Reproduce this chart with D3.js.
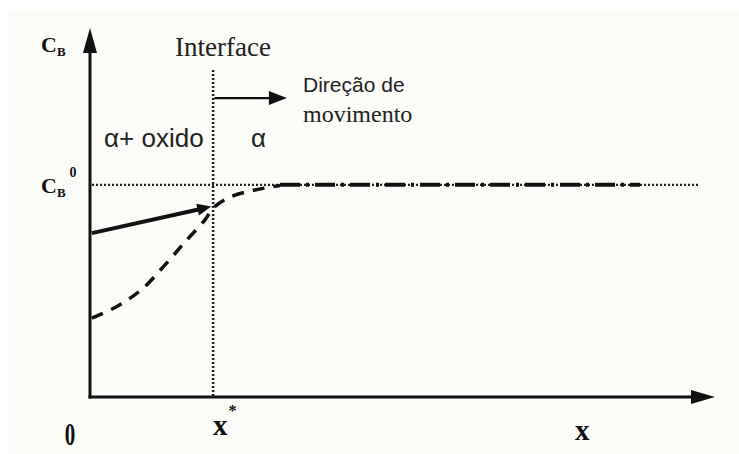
<!DOCTYPE html>
<html><head><meta charset="utf-8">
<script src="https://cdn.jsdelivr.net/npm/d3@7"></script>
<style>body{margin:0;background:#fff}svg{display:block}</style>
</head><body><svg id="c" width="739" height="454"></svg>
<script>
// ---- data (abstract units 0..100 on each axis) ----
const xExtent = [0, 100];
const yExtent = [0, 100];
const interfaceX = 19.7;          // x*
const interfaceTop = 88.6;
const cB0 = 57.5;                 // C_B^0 level
const cB0End = 97.3;              // end of dotted reference line
const solidX = [0.3, 19.4];
const solidY = [44.4, 51.6];
const dashedX = [0.3, 4.5, 8.5, 12.0, 15.2, 18.4, 19.7, 22.4, 26.4, 30.4];
const dashedY = [21.4, 24.7, 29.5, 35.8, 42.0, 48.0, 51.2, 54.2, 56.1, 57.3];
const dashDotX = [30.4, 88.0];
const moveArrowX = [19.9, 31.5];
const moveArrowY = 81;

const svg = d3.select("#c");
const W = 739, H = 454;
const x = d3.scaleLinear().domain(xExtent).range([90, 715]);
const y = d3.scaleLinear().domain(yExtent).range([397, 28]);

svg.append("rect").attr("x",0).attr("y",0).attr("width",W).attr("height",H).attr("fill","#ffffff");
svg.append("rect").attr("x",8).attr("y",10).attr("width",W-8).attr("height",H-10).attr("fill","#fbfbf8");

const ink = "#111";
// dotted C_B^0 line
svg.append("line").attr("x1",x(0)+2).attr("x2",x(cB0End)).attr("y1",y(cB0)).attr("y2",y(cB0))
  .attr("stroke","#222").attr("stroke-width",2.2).attr("stroke-dasharray","2,2");
// interface dotted line
svg.append("line").attr("x1",x(interfaceX)).attr("x2",x(interfaceX)).attr("y1",y(interfaceTop)).attr("y2",y(0))
  .attr("stroke","#222").attr("stroke-width",2.5).attr("stroke-dasharray","2,2");

// axes
svg.append("line").attr("x1",x(0)).attr("x2",x(0)).attr("y1",y(0)+1.5).attr("y2",y(yExtent[1])+20)
  .attr("stroke",ink).attr("stroke-width",3);
svg.append("line").attr("x1",x(0)-1.5).attr("x2",x(xExtent[1])-20).attr("y1",y(0)).attr("y2",y(0))
  .attr("stroke",ink).attr("stroke-width",3);
// axis arrowheads
const yt = [x(0), y(yExtent[1])];
svg.append("path").attr("d",`M${yt[0]},${yt[1]} L${yt[0]-7},${yt[1]+25} L${yt[0]+7},${yt[1]+25} Z`).attr("fill",ink);
const xt = [x(xExtent[1]), y(0)];
svg.append("path").attr("d",`M${xt[0]},${xt[1]} L${xt[0]-24},${xt[1]-7} L${xt[0]-24},${xt[1]+7} Z`).attr("fill",ink);

// movement arrow
const my = y(moveArrowY);
svg.append("line").attr("x1",x(moveArrowX[0])).attr("x2",x(moveArrowX[1])-16).attr("y1",my).attr("y2",my)
  .attr("stroke",ink).attr("stroke-width",2.2);
svg.append("path").attr("d",`M${x(moveArrowX[1])},${my} L${x(moveArrowX[1])-18},${my-7} L${x(moveArrowX[1])-18},${my+7} Z`).attr("fill",ink);

// dash-dot line
svg.append("line").attr("x1",x(dashDotX[0])).attr("x2",x(dashDotX[1])).attr("y1",y(cB0)).attr("y2",y(cB0))
  .attr("stroke",ink).attr("stroke-width",4).attr("stroke-dasharray","20,6,3,6");

// dashed curve
const lineGen = d3.line().x(d=>x(d[0])).y(d=>y(d[1])).curve(d3.curveCatmullRom);
svg.append("path").attr("d",lineGen(d3.zip(dashedX,dashedY))).attr("fill","none")
  .attr("stroke",ink).attr("stroke-width",3.5).attr("stroke-dasharray","12,9");

// solid line with arrowhead
const sx0=x(solidX[0]), sy0=y(solidY[0]), sx1=x(solidX[1]), sy1=y(solidY[1]);
const ang = Math.atan2(sy1-sy0, sx1-sx0);
const hl=14, hw=6;
const bx = sx1 - hl*Math.cos(ang), by = sy1 - hl*Math.sin(ang);
svg.append("line").attr("x1",sx0).attr("y1",sy0).attr("x2",bx+2*Math.cos(ang)).attr("y2",by+2*Math.sin(ang))
  .attr("stroke",ink).attr("stroke-width",4);
svg.append("path").attr("d",`M${sx1},${sy1} L${bx - hw*Math.sin(ang)},${by + hw*Math.cos(ang)} L${bx + hw*Math.sin(ang)},${by - hw*Math.cos(ang)} Z`).attr("fill",ink);

// ---- text ----
const serif = "'Liberation Serif','Times New Roman',serif";
const sans = "'Liberation Sans',Arial,sans-serif";
function cb(xp, yp, sup){
  const t = svg.append("text").attr("x",xp).attr("y",yp).attr("font-family",serif).attr("font-weight","bold")
    .attr("font-size",22).attr("fill",ink);
  t.append("tspan").text("C");
  t.append("tspan").attr("font-size",13).attr("dy",4).text("B");
  if(sup){ t.append("tspan").attr("font-size",14).attr("dy",-20).attr("dx",4).text(sup); }
}
cb(41, 52, null);
cb(41, 193, "0");

svg.append("text").attr("x",175).attr("y",56).attr("font-family",serif).attr("font-size",27).attr("fill","#222").text("Interface");
svg.append("text").attr("x",303).attr("y",92).attr("font-family",sans).attr("font-size",21).attr("fill","#222").text("Direção de");
svg.append("text").attr("x",303).attr("y",122).attr("font-family",serif).attr("font-size",24).attr("fill","#222").text("movimento");
svg.append("text").attr("x",104).attr("y",147).attr("font-family",sans).attr("font-size",26).attr("fill","#222").text("α+ oxido");
svg.append("text").attr("x",251).attr("y",147).attr("font-family",sans).attr("font-size",26).attr("fill","#222").text("α");

svg.append("text").attr("x",70).attr("y",445).attr("font-family",serif).attr("font-weight","bold").attr("font-size",30).attr("fill",ink)
  .attr("transform","translate(70,445) scale(0.7,1.05) translate(-70,-445)").attr("text-anchor","middle").text("0");
const xs = svg.append("text").attr("x",213).attr("y",435).attr("font-family",serif).attr("font-weight","bold").attr("font-size",29).attr("fill",ink);
xs.append("tspan").text("x");
xs.append("tspan").attr("font-size",16).attr("dy",-19).attr("dx",1).text("*");
svg.append("text").attr("x",575).attr("y",440).attr("font-family",serif).attr("font-weight","bold").attr("font-size",29).attr("fill",ink).text("x");
</script></body></html>
